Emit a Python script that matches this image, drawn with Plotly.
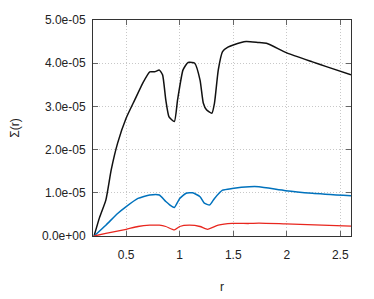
import plotly.graph_objects as go

# Black series
r_black = [0.20, 0.25, 0.31, 0.36, 0.42, 0.50, 0.58, 0.655, 0.72, 0.765, 0.81, 0.84, 0.87, 0.90, 0.95,
           0.98, 1.03, 1.07, 1.09, 1.14, 1.19, 1.22, 1.25, 1.30, 1.325, 1.36, 1.40, 1.45, 1.50, 1.62,
           1.73, 1.81, 2.0, 2.24, 2.37, 2.6]
s_black = [0.0, 0.42, 0.83, 1.53, 2.15, 2.73, 3.15, 3.54, 3.80, 3.80, 3.84, 3.73, 3.15, 2.76, 2.65,
           3.15, 3.84, 4.0, 4.02, 4.0, 3.61, 3.08, 2.92, 2.84, 3.08, 3.84, 4.27, 4.37, 4.42, 4.50,
           4.48, 4.46, 4.24, 4.03, 3.92, 3.73]

# Blue series
r_blue = [0.20, 0.31, 0.42, 0.50, 0.61, 0.72, 0.81, 0.87, 0.93, 0.95, 1.0, 1.06, 1.12, 1.19, 1.23,
          1.28, 1.325, 1.40, 1.49, 1.65, 1.74, 1.99, 2.24, 2.6]
s_blue = [0.0, 0.25, 0.52, 0.68, 0.87, 0.95, 0.95, 0.80, 0.68, 0.66, 0.87, 0.99, 1.0, 0.91, 0.76,
          0.72, 0.87, 1.06, 1.10, 1.14, 1.14, 1.05, 0.99, 0.93]

# Red series
r_red = [0.20, 0.31, 0.50, 0.61, 0.72, 0.81, 0.87, 0.95, 1.0, 1.09, 1.19, 1.26, 1.36, 1.49, 1.65,
         1.74, 1.99, 2.6]
s_red = [0.0, 0.06, 0.155, 0.22, 0.25, 0.25, 0.22, 0.14, 0.22, 0.25, 0.22, 0.155, 0.25, 0.29, 0.29,
         0.30, 0.28, 0.23]

x_ticks = [0.5, 1, 1.5, 2, 2.5]
x_tick_labels = ["0.5", "1", "1.5", "2", "2.5"]
y_ticks = [0, 1e-5, 2e-5, 3e-5, 4e-5, 5e-5]
y_tick_labels = ["0.0e+00", "1.0e-05", "2.0e-05", "3.0e-05", "4.0e-05", "5.0e-05"]

FONT = "Liberation Sans, Arial"

fig = go.Figure()
for r, s, c, w in [(r_black, s_black, "#111111", 1.5),
                   (r_blue, s_blue, "#0072bd", 1.5),
                   (r_red, s_red, "#e8261e", 1.3)]:
    fig.add_trace(go.Scatter(x=r, y=[v * 1e-5 for v in s], mode="lines",
                             line=dict(color=c, width=w, shape="spline", smoothing=0.5),
                             showlegend=False, hoverinfo="skip"))

axis_common = dict(showline=True, linecolor="#333333", linewidth=1, mirror="ticks",
                   ticks="inside", ticklen=5, tickcolor="#666666", automargin=False,
                   showgrid=True, gridcolor="#c8c8c8", griddash="1px,2px", gridwidth=1,
                   zeroline=False, tickfont=dict(family=FONT, size=12, color="#222"))

# page body has an 8px margin, so the figure is offset by 8px
fig.update_layout(
    width=366, height=291,
    margin=dict(l=85, r=23, t=12, b=63),
    paper_bgcolor="white", plot_bgcolor="white",
    xaxis=dict(range=[0.19, 2.6], tickvals=x_ticks, ticktext=x_tick_labels,
               title=dict(text="r", font=dict(family=FONT, size=12, color="#222"), standoff=21),
               ticklabelstandoff=8, **axis_common),
    yaxis=dict(range=[0, 5e-5], tickvals=y_ticks, ticktext=y_tick_labels,
               title=dict(text="Σ(r)", font=dict(family=FONT, size=12, color="#222"), standoff=26),
               ticklabelstandoff=4, **axis_common),
)

fig.write_html("out.html")
